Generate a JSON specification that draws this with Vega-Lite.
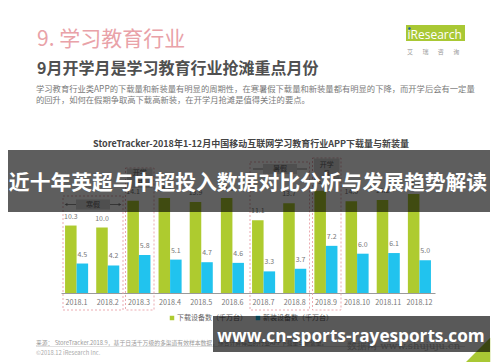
{
  "$schema": "https://vega.github.io/schema/vega-lite/v6.json",
  "width": 500,
  "height": 362,
  "autosize": "none",
  "padding": 0,
  "background": "white",
  "config": {"view": {"stroke": null}, "font": "Noto Sans CJK SC"},
  "resolve": {"scale": {"x": "independent", "y": "independent"}},
  "layer": [
    {
      "data": {"values": [
        {"month": "2018.1", "series": "下载设备数（千万台）", "value": 10.3},
        {"month": "2018.1", "series": "新装设备数（千万台）", "value": 4.5},
        {"month": "2018.2", "series": "下载设备数（千万台）", "value": 10.0},
        {"month": "2018.2", "series": "新装设备数（千万台）", "value": 4.2},
        {"month": "2018.3", "series": "下载设备数（千万台）", "value": 14.1},
        {"month": "2018.3", "series": "新装设备数（千万台）", "value": 5.8},
        {"month": "2018.4", "series": "下载设备数（千万台）", "value": 14.5},
        {"month": "2018.4", "series": "新装设备数（千万台）", "value": 5.1},
        {"month": "2018.5", "series": "下载设备数（千万台）", "value": 13.9},
        {"month": "2018.5", "series": "新装设备数（千万台）", "value": 4.7},
        {"month": "2018.6", "series": "下载设备数（千万台）", "value": 14.5},
        {"month": "2018.6", "series": "新装设备数（千万台）", "value": 4.6},
        {"month": "2018.7", "series": "下载设备数（千万台）", "value": 11.1},
        {"month": "2018.7", "series": "新装设备数（千万台）", "value": 3.3},
        {"month": "2018.8", "series": "下载设备数（千万台）", "value": 13.7},
        {"month": "2018.8", "series": "新装设备数（千万台）", "value": 3.7},
        {"month": "2018.9", "series": "下载设备数（千万台）", "value": 15.6},
        {"month": "2018.9", "series": "新装设备数（千万台）", "value": 7.2},
        {"month": "2018.10", "series": "下载设备数（千万台）", "value": 14.0},
        {"month": "2018.10", "series": "新装设备数（千万台）", "value": 6.0},
        {"month": "2018.11", "series": "下载设备数（千万台）", "value": 14.2},
        {"month": "2018.11", "series": "新装设备数（千万台）", "value": 6.1},
        {"month": "2018.12", "series": "下载设备数（千万台）", "value": 15.1},
        {"month": "2018.12", "series": "新装设备数（千万台）", "value": 5.0}
      ]},
      "encoding": {
        "x": {"field": "month", "type": "nominal", "sort": null,
          "scale": {"type": "band", "range": [61, 435], "paddingInner": 0.26, "paddingOuter": 0.13},
          "axis": {"title": null, "labelAngle": 0, "orient": "bottom", "offset": -69, "ticks": false, "domainColor": "#9a9a9a", "domainWidth": 1, "labelFontSize": 7.2, "labelColor": "#777777", "labelPadding": 5}},
        "xOffset": {"field": "series", "type": "nominal", "sort": null},
        "y": {"field": "value", "type": "quantitative", "scale": {"domain": [0, 16], "range": [293, 188.2], "nice": false, "zero": true}, "axis": null}
      },
      "layer": [
        {"mark": {"type": "bar"},
         "encoding": {"color": {"field": "series", "type": "nominal", "sort": null,
           "scale": {"domain": ["下载设备数（千万台）", "新装设备数（千万台）"], "range": ["#AECB2F", "#21C3EE"]}, "legend": null}}},
        {"mark": {"type": "text", "baseline": "middle", "dy": -9, "fontSize": 7, "color": "#777777"},
         "encoding": {"text": {"field": "value", "type": "quantitative", "format": ".1f"}}}
      ]
    },
    {
      "data": {"values": [{}]},
      "layer": [
        {"mark": {"type": "text", "text": "9. 学习教育行业", "align": "left", "baseline": "middle", "fontSize": 21, "color": "#E9A2A8"},
         "encoding": {"x": {"datum": 37, "type": "quantitative", "scale": {"domain": [0, 500], "nice": false, "zero": false}, "axis": null},
                      "y": {"datum": 40, "type": "quantitative", "scale": {"domain": [0, 362], "nice": false, "zero": false, "reverse": true}, "axis": null}}},
        {"mark": {"type": "text", "text": "9月开学月是学习教育行业抢滩重点月份", "align": "left", "baseline": "middle", "fontSize": 16, "fontWeight": "bold", "color": "#505050"},
         "encoding": {"x": {"datum": 37, "type": "quantitative", "scale": {"domain": [0, 500], "nice": false, "zero": false}, "axis": null},
                      "y": {"datum": 68.5, "type": "quantitative", "scale": {"domain": [0, 362], "nice": false, "zero": false, "reverse": true}, "axis": null}}},
        {"mark": {"type": "text", "text": "学习教育行业类APP的下载量和新装量有明显的周期性，在寒暑假下载量和新装量都有明显的下降，而开学后会有一定量", "align": "left", "baseline": "middle", "fontSize": 8.3, "color": "#7a7a7a"},
         "encoding": {"x": {"datum": 36, "type": "quantitative", "scale": {"domain": [0, 500], "nice": false, "zero": false}, "axis": null},
                      "y": {"datum": 90, "type": "quantitative", "scale": {"domain": [0, 362], "nice": false, "zero": false, "reverse": true}, "axis": null}}},
        {"mark": {"type": "text", "text": "的回升，如何在假期争取高下载高新装，在开学月抢滩是值得关注的要点。", "align": "left", "baseline": "middle", "fontSize": 8.3, "color": "#7a7a7a"},
         "encoding": {"x": {"datum": 36, "type": "quantitative", "scale": {"domain": [0, 500], "nice": false, "zero": false}, "axis": null},
                      "y": {"datum": 100.5, "type": "quantitative", "scale": {"domain": [0, 362], "nice": false, "zero": false, "reverse": true}, "axis": null}}},
        {"mark": {"type": "rect", "color": "#A9C834"},
         "encoding": {"x": {"datum": 406, "type": "quantitative", "scale": {"domain": [0, 500], "nice": false, "zero": false}, "axis": null},
                      "x2": {"datum": 465},
                      "y": {"datum": 25, "type": "quantitative", "scale": {"domain": [0, 362], "nice": false, "zero": false, "reverse": true}, "axis": null},
                      "y2": {"datum": 41}}},
        {"mark": {"type": "text", "text": "iResearch", "align": "left", "baseline": "middle", "fontSize": 12, "color": "white", "font": "Open Sans"},
         "encoding": {"x": {"datum": 407.5, "type": "quantitative", "scale": {"domain": [0, 500], "nice": false, "zero": false}, "axis": null},
                      "y": {"datum": 34.5, "type": "quantitative", "scale": {"domain": [0, 362], "nice": false, "zero": false, "reverse": true}, "axis": null}}},
        {"mark": {"type": "point", "shape": "circle", "filled": true, "size": 6, "color": "#1D5AA6", "opacity": 1},
         "encoding": {"x": {"datum": 409.5, "type": "quantitative", "scale": {"domain": [0, 500], "nice": false, "zero": false}, "axis": null},
                      "y": {"datum": 28.5, "type": "quantitative", "scale": {"domain": [0, 362], "nice": false, "zero": false, "reverse": true}, "axis": null}}},
        {"mark": {"type": "text", "text": "艾\u00a0\u00a0\u00a0\u00a0\u00a0\u00a0\u00a0瑞\u00a0\u00a0\u00a0\u00a0\u00a0\u00a0\u00a0咨\u00a0\u00a0\u00a0\u00a0\u00a0\u00a0\u00a0询", "align": "left", "baseline": "middle", "fontSize": 6, "color": "#999999"},
         "encoding": {"x": {"datum": 407, "type": "quantitative", "scale": {"domain": [0, 500], "nice": false, "zero": false}, "axis": null},
                      "y": {"datum": 52, "type": "quantitative", "scale": {"domain": [0, 362], "nice": false, "zero": false, "reverse": true}, "axis": null}}},
        {"mark": {"type": "text", "text": "StoreTracker-2018年1-12月中国移动互联网学习教育行业APP下载量与新装量", "align": "center", "baseline": "middle", "fontSize": 9, "fontWeight": "bold", "color": "#444444"},
         "encoding": {"x": {"datum": 251, "type": "quantitative", "scale": {"domain": [0, 500], "nice": false, "zero": false}, "axis": null},
                      "y": {"datum": 144, "type": "quantitative", "scale": {"domain": [0, 362], "nice": false, "zero": false, "reverse": true}, "axis": null}}},
        {"mark": {"type": "rect", "fill": null, "stroke": "#E9A2A8", "strokeDash": [2, 2], "strokeWidth": 0.9},
         "encoding": {"x": {"datum": 63, "type": "quantitative", "scale": {"domain": [0, 500], "nice": false, "zero": false}, "axis": null},
                      "x2": {"datum": 123},
                      "y": {"datum": 196, "type": "quantitative", "scale": {"domain": [0, 362], "nice": false, "zero": false, "reverse": true}, "axis": null},
                      "y2": {"datum": 310}}},
        {"mark": {"type": "rect", "fill": null, "stroke": "#E9A2A8", "strokeDash": [2, 2], "strokeWidth": 0.9},
         "encoding": {"x": {"datum": 125.5, "type": "quantitative", "scale": {"domain": [0, 500], "nice": false, "zero": false}, "axis": null},
                      "x2": {"datum": 154},
                      "y": {"datum": 168, "type": "quantitative", "scale": {"domain": [0, 362], "nice": false, "zero": false, "reverse": true}, "axis": null},
                      "y2": {"datum": 310}}},
        {"mark": {"type": "rect", "fill": null, "stroke": "#E9A2A8", "strokeDash": [2, 2], "strokeWidth": 0.9},
         "encoding": {"x": {"datum": 250, "type": "quantitative", "scale": {"domain": [0, 500], "nice": false, "zero": false}, "axis": null},
                      "x2": {"datum": 309.5},
                      "y": {"datum": 162, "type": "quantitative", "scale": {"domain": [0, 362], "nice": false, "zero": false, "reverse": true}, "axis": null},
                      "y2": {"datum": 310}}},
        {"mark": {"type": "rect", "fill": null, "stroke": "#E9A2A8", "strokeDash": [2, 2], "strokeWidth": 0.9},
         "encoding": {"x": {"datum": 312.5, "type": "quantitative", "scale": {"domain": [0, 500], "nice": false, "zero": false}, "axis": null},
                      "x2": {"datum": 341},
                      "y": {"datum": 158, "type": "quantitative", "scale": {"domain": [0, 362], "nice": false, "zero": false, "reverse": true}, "axis": null},
                      "y2": {"datum": 310}}},
        {"mark": {"type": "rule", "color": "#777777", "strokeWidth": 0.8},
         "encoding": {"x": {"datum": 66, "type": "quantitative", "scale": {"domain": [0, 500], "nice": false, "zero": false}, "axis": null},
                      "x2": {"datum": 120},
                      "y": {"datum": 204.5, "type": "quantitative", "scale": {"domain": [0, 362], "nice": false, "zero": false, "reverse": true}, "axis": null}}},
        {"mark": {"type": "rule", "color": "#777777", "strokeWidth": 0.8},
         "encoding": {"x": {"datum": 253, "type": "quantitative", "scale": {"domain": [0, 500], "nice": false, "zero": false}, "axis": null},
                      "x2": {"datum": 307},
                      "y": {"datum": 169, "type": "quantitative", "scale": {"domain": [0, 362], "nice": false, "zero": false, "reverse": true}, "axis": null}}},
        {"mark": {"type": "point", "shape": "triangle-left", "filled": true, "size": 10, "color": "#777777", "opacity": 1},
         "encoding": {"x": {"datum": 66, "type": "quantitative", "scale": {"domain": [0, 500], "nice": false, "zero": false}, "axis": null},
                      "y": {"datum": 204.5, "type": "quantitative", "scale": {"domain": [0, 362], "nice": false, "zero": false, "reverse": true}, "axis": null}}},
        {"mark": {"type": "point", "shape": "triangle-right", "filled": true, "size": 10, "color": "#777777", "opacity": 1},
         "encoding": {"x": {"datum": 120, "type": "quantitative", "scale": {"domain": [0, 500], "nice": false, "zero": false}, "axis": null},
                      "y": {"datum": 204.5, "type": "quantitative", "scale": {"domain": [0, 362], "nice": false, "zero": false, "reverse": true}, "axis": null}}},
        {"mark": {"type": "rect", "color": "#D6D6D6"},
         "encoding": {"x": {"datum": 76, "type": "quantitative", "scale": {"domain": [0, 500], "nice": false, "zero": false}, "axis": null},
                      "x2": {"datum": 110},
                      "y": {"datum": 199.5, "type": "quantitative", "scale": {"domain": [0, 362], "nice": false, "zero": false, "reverse": true}, "axis": null},
                      "y2": {"datum": 209.5}}},
        {"mark": {"type": "text", "text": "寒假", "align": "center", "baseline": "middle", "fontSize": 7, "color": "#666666"},
         "encoding": {"x": {"datum": 93, "type": "quantitative", "scale": {"domain": [0, 500], "nice": false, "zero": false}, "axis": null},
                      "y": {"datum": 204.5, "type": "quantitative", "scale": {"domain": [0, 362], "nice": false, "zero": false, "reverse": true}, "axis": null}}},
        {"mark": {"type": "rect", "color": "#D6D6D6"},
         "encoding": {"x": {"datum": 263, "type": "quantitative", "scale": {"domain": [0, 500], "nice": false, "zero": false}, "axis": null},
                      "x2": {"datum": 297},
                      "y": {"datum": 164, "type": "quantitative", "scale": {"domain": [0, 362], "nice": false, "zero": false, "reverse": true}, "axis": null},
                      "y2": {"datum": 174}}},
        {"mark": {"type": "text", "text": "暑假", "align": "center", "baseline": "middle", "fontSize": 7, "color": "#666666"},
         "encoding": {"x": {"datum": 280, "type": "quantitative", "scale": {"domain": [0, 500], "nice": false, "zero": false}, "axis": null},
                      "y": {"datum": 169, "type": "quantitative", "scale": {"domain": [0, 362], "nice": false, "zero": false, "reverse": true}, "axis": null}}},
        {"mark": {"type": "rect", "color": "#D6D6D6"},
         "encoding": {"x": {"datum": 127, "type": "quantitative", "scale": {"domain": [0, 500], "nice": false, "zero": false}, "axis": null},
                      "x2": {"datum": 152.5},
                      "y": {"datum": 168.5, "type": "quantitative", "scale": {"domain": [0, 362], "nice": false, "zero": false, "reverse": true}, "axis": null},
                      "y2": {"datum": 188}}},
        {"mark": {"type": "text", "text": "开学", "align": "center", "baseline": "middle", "fontSize": 7, "color": "#666666"},
         "encoding": {"x": {"datum": 139.7, "type": "quantitative", "scale": {"domain": [0, 500], "nice": false, "zero": false}, "axis": null},
                      "y": {"datum": 173, "type": "quantitative", "scale": {"domain": [0, 362], "nice": false, "zero": false, "reverse": true}, "axis": null}}},
        {"mark": {"type": "text", "text": "月", "align": "center", "baseline": "middle", "fontSize": 7, "color": "#666666"},
         "encoding": {"x": {"datum": 139.7, "type": "quantitative", "scale": {"domain": [0, 500], "nice": false, "zero": false}, "axis": null},
                      "y": {"datum": 182, "type": "quantitative", "scale": {"domain": [0, 362], "nice": false, "zero": false, "reverse": true}, "axis": null}}},
        {"mark": {"type": "rect", "color": "#D6D6D6"},
         "encoding": {"x": {"datum": 314, "type": "quantitative", "scale": {"domain": [0, 500], "nice": false, "zero": false}, "axis": null},
                      "x2": {"datum": 339.5},
                      "y": {"datum": 158.5, "type": "quantitative", "scale": {"domain": [0, 362], "nice": false, "zero": false, "reverse": true}, "axis": null},
                      "y2": {"datum": 179}}},
        {"mark": {"type": "text", "text": "开学", "align": "center", "baseline": "middle", "fontSize": 7, "color": "#666666"},
         "encoding": {"x": {"datum": 326.7, "type": "quantitative", "scale": {"domain": [0, 500], "nice": false, "zero": false}, "axis": null},
                      "y": {"datum": 165, "type": "quantitative", "scale": {"domain": [0, 362], "nice": false, "zero": false, "reverse": true}, "axis": null}}},
        {"mark": {"type": "text", "text": "月", "align": "center", "baseline": "middle", "fontSize": 7, "color": "#666666"},
         "encoding": {"x": {"datum": 326.7, "type": "quantitative", "scale": {"domain": [0, 500], "nice": false, "zero": false}, "axis": null},
                      "y": {"datum": 174, "type": "quantitative", "scale": {"domain": [0, 362], "nice": false, "zero": false, "reverse": true}, "axis": null}}},
        {"mark": {"type": "point", "shape": "square", "filled": true, "size": 20, "color": "#AECB2F", "opacity": 1},
         "encoding": {"x": {"datum": 172, "type": "quantitative", "scale": {"domain": [0, 500], "nice": false, "zero": false}, "axis": null},
                      "y": {"datum": 318, "type": "quantitative", "scale": {"domain": [0, 362], "nice": false, "zero": false, "reverse": true}, "axis": null}}},
        {"mark": {"type": "text", "text": "下载设备数（千万台）", "align": "left", "baseline": "middle", "fontSize": 7, "color": "#666666"},
         "encoding": {"x": {"datum": 177, "type": "quantitative", "scale": {"domain": [0, 500], "nice": false, "zero": false}, "axis": null},
                      "y": {"datum": 318, "type": "quantitative", "scale": {"domain": [0, 362], "nice": false, "zero": false, "reverse": true}, "axis": null}}},
        {"mark": {"type": "point", "shape": "square", "filled": true, "size": 20, "color": "#21C3EE", "opacity": 1},
         "encoding": {"x": {"datum": 258, "type": "quantitative", "scale": {"domain": [0, 500], "nice": false, "zero": false}, "axis": null},
                      "y": {"datum": 318, "type": "quantitative", "scale": {"domain": [0, 362], "nice": false, "zero": false, "reverse": true}, "axis": null}}},
        {"mark": {"type": "text", "text": "新装设备数（千万台）", "align": "left", "baseline": "middle", "fontSize": 7, "color": "#666666"},
         "encoding": {"x": {"datum": 263, "type": "quantitative", "scale": {"domain": [0, 500], "nice": false, "zero": false}, "axis": null},
                      "y": {"datum": 318, "type": "quantitative", "scale": {"domain": [0, 362], "nice": false, "zero": false, "reverse": true}, "axis": null}}},
        {"mark": {"type": "text", "text": "来源： StoreTracker.2018.9，基于日活千万级的多渠道有效样本数据，综合计算得出的行业APP下载量与新装量。", "align": "left", "baseline": "middle", "fontSize": 5.8, "color": "#999999"},
         "encoding": {"x": {"datum": 36, "type": "quantitative", "scale": {"domain": [0, 500], "nice": false, "zero": false}, "axis": null},
                      "y": {"datum": 342.5, "type": "quantitative", "scale": {"domain": [0, 362], "nice": false, "zero": false, "reverse": true}, "axis": null}}},
        {"mark": {"type": "rule", "color": "#cccccc", "strokeWidth": 0.6},
         "encoding": {"x": {"datum": 36, "type": "quantitative", "scale": {"domain": [0, 500], "nice": false, "zero": false}, "axis": null},
                      "x2": {"datum": 465},
                      "y": {"datum": 346.5, "type": "quantitative", "scale": {"domain": [0, 362], "nice": false, "zero": false, "reverse": true}, "axis": null}}},
        {"mark": {"type": "text", "text": "©2018.12 iResearch Inc.", "align": "left", "baseline": "middle", "fontSize": 5.8, "color": "#aaaaaa"},
         "encoding": {"x": {"datum": 36, "type": "quantitative", "scale": {"domain": [0, 500], "nice": false, "zero": false}, "axis": null},
                      "y": {"datum": 352.5, "type": "quantitative", "scale": {"domain": [0, 362], "nice": false, "zero": false, "reverse": true}, "axis": null}}},
        {"mark": {"type": "text", "text": "数据网 www.shujuju.cn", "align": "left", "baseline": "middle", "fontSize": 10, "color": "#bbbbbb", "font": "DejaVu Serif"},
         "encoding": {"x": {"datum": 347, "type": "quantitative", "scale": {"domain": [0, 500], "nice": false, "zero": false}, "axis": null},
                      "y": {"datum": 346, "type": "quantitative", "scale": {"domain": [0, 362], "nice": false, "zero": false, "reverse": true}, "axis": null}}},
        {"mark": {"type": "point", "shape": "M 1 -1 L 1 1 L -1 1 Z", "filled": true, "size": 600, "color": "#A9C834", "opacity": 1},
         "encoding": {"x": {"datum": 478, "type": "quantitative", "scale": {"domain": [0, 500], "nice": false, "zero": false}, "axis": null},
                      "y": {"datum": 350, "type": "quantitative", "scale": {"domain": [0, 362], "nice": false, "zero": false, "reverse": true}, "axis": null}}},
        {"mark": {"type": "rect", "color": "#000000", "opacity": 0.63},
         "encoding": {"x": {"datum": 8, "type": "quantitative", "scale": {"domain": [0, 500], "nice": false, "zero": false}, "axis": null},
                      "x2": {"datum": 490},
                      "y": {"datum": 150, "type": "quantitative", "scale": {"domain": [0, 362], "nice": false, "zero": false, "reverse": true}, "axis": null},
                      "y2": {"datum": 212}}},
        {"mark": {"type": "text", "text": "近十年英超与中超投入数据对比分析与发展趋势解读", "align": "center", "baseline": "middle", "fontSize": 20.8, "fontWeight": "bold", "color": "white"},
         "encoding": {"x": {"datum": 248, "type": "quantitative", "scale": {"domain": [0, 500], "nice": false, "zero": false}, "axis": null},
                      "y": {"datum": 183.5, "type": "quantitative", "scale": {"domain": [0, 362], "nice": false, "zero": false, "reverse": true}, "axis": null}}},
        {"mark": {"type": "rect", "color": "#000000", "opacity": 0.65},
         "encoding": {"x": {"datum": 213, "type": "quantitative", "scale": {"domain": [0, 500], "nice": false, "zero": false}, "axis": null},
                      "x2": {"datum": 490},
                      "y": {"datum": 316, "type": "quantitative", "scale": {"domain": [0, 362], "nice": false, "zero": false, "reverse": true}, "axis": null},
                      "y2": {"datum": 352}}},
        {"mark": {"type": "text", "text": "www.cn-sports-rayesports.com", "align": "center", "baseline": "middle", "fontSize": 17.2, "fontWeight": "bold", "color": "white", "font": "Open Sans"},
         "encoding": {"x": {"datum": 351, "type": "quantitative", "scale": {"domain": [0, 500], "nice": false, "zero": false}, "axis": null},
                      "y": {"datum": 336.5, "type": "quantitative", "scale": {"domain": [0, 362], "nice": false, "zero": false, "reverse": true}, "axis": null}}}
      ]
    }
  ]
}
